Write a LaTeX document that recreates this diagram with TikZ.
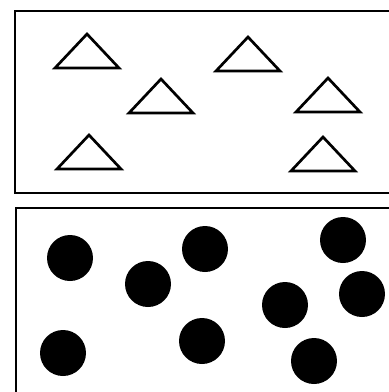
\documentclass[tikz,border=0pt]{standalone}
\usetikzlibrary{positioning}

\begin{document}
\begin{tikzpicture}[x=1pt, y=-1pt,
    frame/.style={line width=2.4pt},
    tri/.style={line width=2.7pt, line join=miter},
    dot/.style={circle, fill=black, inner sep=0pt, minimum size=46pt}]
  \useasboundingbox (0,0) rectangle (389,392);
  \clip (0,0) rectangle (389,392);
  \draw[frame] (15,11) rectangle (400,193);
  \draw[frame] (16,208) rectangle (400,410);
  \foreach \x/\y [count=\i] in {87/34, 248/37, 161/79, 328/78, 89/135, 323/137}
    \draw[tri] (\x,\y) coordinate (t\i) -- ++(32,34) -- ++(-64,0) -- cycle;
  \foreach \x/\y [count=\i] in {70/258, 148/284, 205/249, 343/240, 285/305,
                                  362/294, 63/353, 202/341, 314/361}
    \node[dot] (d\i) at (\x,\y) {};
\end{tikzpicture}
\end{document}
